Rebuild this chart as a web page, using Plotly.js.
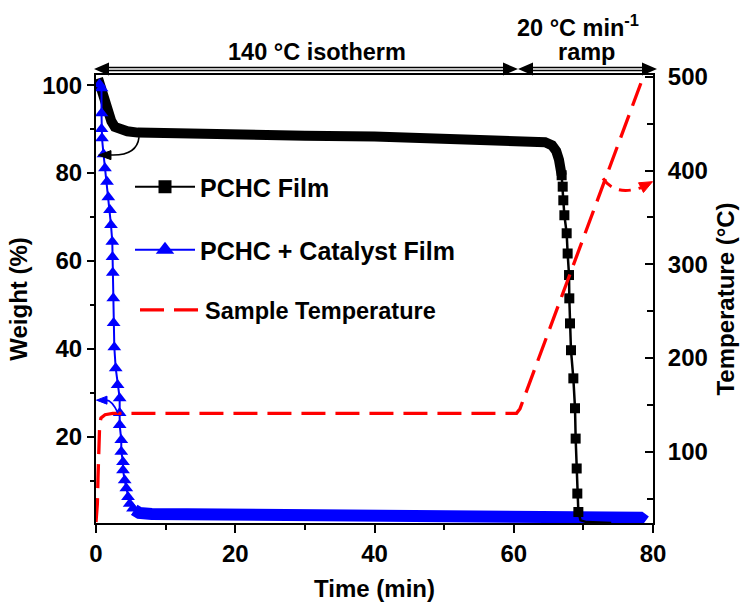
<!DOCTYPE html>
<html><head><meta charset="utf-8">
<script src="https://cdn.plot.ly/plotly-3.0.1.min.js"></script>
<style>html,body{margin:0;padding:0;background:#fff}</style>
</head><body>
<div id="chart" style="width:740px;height:605px"></div>
<script>
// ---- PCHC Film (black) ----
// isotherm part: markers so dense they form a continuous band
const pchcBandTime   = [0.3, 0.6, 0.9, 1.2, 1.5, 1.8, 2.2, 2.7, 3.5, 4.5, 6, 10, 20, 30, 40, 50, 60, 63, 64.5, 65.5, 66.1, 66.5, 66.88];
const pchcBandWeight = [101.5, 99.8, 97.5, 95.5, 94.3, 93.2, 91.8, 90.5, 89.9, 89.5, 89.2, 89.0, 88.7, 88.5, 88.3, 88.0, 87.7, 87.4, 87.0, 86.3, 85.0, 83.0, 79.5];
// decomposition during the ramp (individual markers visible)
const pchcDropTime   = [66.88, 67.03, 67.12, 67.27, 67.60, 67.74, 67.94, 67.98, 68.08, 68.22, 68.56, 68.80, 68.89, 69.04, 69.13, 69.28];
const pchcDropWeight = [79.5, 76.9, 73.8, 70.4, 66.3, 61.7, 56.8, 51.5, 45.8, 39.7, 33.3, 26.5, 19.6, 12.8, 7.1, 2.9];
const pchcTailTime   = [69.28, 69.6, 70.5, 72, 74];
const pchcTailWeight = [2.9, 1.0, 0.6, 0.5, 0.4];

// ---- PCHC + Catalyst Film (blue) ----
const catDropTime   = [0.50, 0.79, 0.79, 0.79, 0.86, 1.08, 1.29, 1.58, 1.77, 2.01, 2.15, 2.34, 2.37, 2.41, 2.48, 2.53, 2.63, 2.83, 3.10, 3.40, 3.40, 3.40, 3.63, 3.63, 3.88, 3.88, 4.12, 4.35, 4.60, 4.84, 5.31, 6.03];
const catDropWeight = [100.2, 99.3, 93.6, 90.0, 87.9, 84.3, 81.1, 78.0, 74.5, 71.6, 68.2, 64.4, 60.9, 57.3, 51.5, 45.9, 40.4, 35.6, 31.8, 28.8, 25.4, 22.7, 19.3, 16.6, 14.3, 12.4, 10.1, 8.3, 6.3, 4.8, 3.7, 2.9];
const catBandTime   = [5.5, 6.2, 8, 15, 30, 45, 58, 66, 70, 75, 78.2, 78.9];
const catBandWeight = [3.4, 2.7, 2.45, 2.35, 2.25, 2.15, 2.05, 1.9, 1.75, 1.7, 1.6, 0.8];

// ---- Sample Temperature (red, right axis) ----
const tempTime  = [0, 0.2, 0.29, 0.43, 0.53, 0.72, 1.3, 2.4, 60.4, 60.9, 78.3];
const tempValue = [25, 45, 73, 105, 130, 136, 139.5, 141, 141, 146, 494];

// ---- labels ----
const xTitle = 'Time (min)';
const yTitle = 'Weight (%)';
const y2Title = 'Temperature (°C)';
const seriesNames = ['PCHC Film', 'PCHC + Catalyst Film', 'Sample Temperature'];
const topLabels = ['140 °C isotherm', '20 °C min<sup>-1</sup>', 'ramp'];

const FONT = 'Liberation Sans, Arial, sans-serif';
const BLACK = '#000000', BLUE = '#0000ff', RED = '#ff0000';

const traces = [
  {x: catBandTime, y: catBandWeight, mode: 'lines', line: {color: BLUE, width: 12}, showlegend: false, hoverinfo: 'skip'},
  {x: pchcBandTime, y: pchcBandWeight, mode: 'lines', line: {color: BLACK, width: 10}, showlegend: false, hoverinfo: 'skip'},
  {x: catDropTime, y: catDropWeight, mode: 'lines+markers', showlegend: false,
   line: {color: BLUE, width: 2}, marker: {symbol: 'triangle-up', size: 12, color: BLUE}},
  {x: pchcDropTime, y: pchcDropWeight, mode: 'lines+markers', showlegend: false,
   line: {color: BLACK, width: 2.5}, marker: {symbol: 'square', size: 10, color: BLACK}},
  {x: pchcTailTime, y: pchcTailWeight, mode: 'lines', line: {color: BLACK, width: 2.5}, showlegend: false},
  {x: tempTime, y: tempValue, yaxis: 'y2', mode: 'lines', name: seriesNames[2], legend: 'legend3',
   line: {color: RED, width: 3.3, dash: '24px,10px'}},
  // legend entries (larger symbols, as in the original legend)
  {x: [null], y: [null], mode: 'lines+markers', name: seriesNames[0], legend: 'legend',
   line: {color: BLACK, width: 2}, marker: {symbol: 'square', size: 13, color: BLACK}},
  {x: [null], y: [null], mode: 'lines+markers', name: seriesNames[1], legend: 'legend2',
   line: {color: BLUE, width: 2}, marker: {symbol: 'triangle-up', size: 16, color: BLUE}}
];

// helpers: pixel -> paper
const PX0 = 96, PW = 557, PY1 = 523, PH = 448;
const px = v => (v - PX0) / PW;
const py = v => (PY1 - v) / PH;

function tri(a, b, c) {
  return `M${a[0]},${a[1]} L${b[0]},${b[1]} L${c[0]},${c[1]} Z`;
}
const ay = py(69), ah = 6.5 / PH;
const shapes = [
  // top double-headed arrows (outlined shaft)
  {type: 'line', xref: 'paper', yref: 'paper', x0: px(106), x1: px(506), y0: ay, y1: ay, line: {color: BLACK, width: 4.5}},
  {type: 'line', xref: 'paper', yref: 'paper', x0: px(106), x1: px(506), y0: ay, y1: ay, line: {color: '#fff', width: 1.4}},
  {type: 'path', xref: 'paper', yref: 'paper', path: tri([px(94), ay], [px(109), ay + ah], [px(109), ay - ah]), fillcolor: BLACK, line: {width: 0}},
  {type: 'path', xref: 'paper', yref: 'paper', path: tri([px(518), ay], [px(503), ay + ah], [px(503), ay - ah]), fillcolor: BLACK, line: {width: 0}},
  {type: 'line', xref: 'paper', yref: 'paper', x0: px(530), x1: px(645), y0: ay, y1: ay, line: {color: BLACK, width: 4.5}},
  {type: 'line', xref: 'paper', yref: 'paper', x0: px(530), x1: px(645), y0: ay, y1: ay, line: {color: '#fff', width: 1.4}},
  {type: 'path', xref: 'paper', yref: 'paper', path: tri([px(518), ay], [px(533), ay + ah], [px(533), ay - ah]), fillcolor: BLACK, line: {width: 0}},
  {type: 'path', xref: 'paper', yref: 'paper', path: tri([px(657), ay], [px(642), ay + ah], [px(642), ay - ah]), fillcolor: BLACK, line: {width: 0}},
  // curved axis-indicator arrows
  {type: 'path', xref: 'x', yref: 'y', path: 'M 6.18,88.17 Q 5.89,83.9 2.15,84.1', line: {color: BLACK, width: 1.6}},
  {type: 'path', xref: 'x', yref: 'y', path: 'M 0.36,84.07 L 2.15,85.1 L 2.15,83.05 Z', fillcolor: BLACK, line: {color: BLACK, width: 1}},
  {type: 'path', xref: 'x', yref: 'y', path: 'M 3.16,25.39 Q 2.30,28.34 1.44,28.34', line: {color: BLUE, width: 1.6}},
  {type: 'path', xref: 'x', yref: 'y', path: 'M 0.07,28.34 L 1.58,29.25 L 1.58,27.43 Z', fillcolor: BLUE, line: {color: BLUE, width: 1}},
  {type: 'path', xref: 'x', yref: 'y2', path: 'M 72.82,391.7 Q 74.54,372.5 78.28,381.8', line: {color: RED, width: 3, dash: '12px,8px'}},
  {type: 'path', xref: 'x', yref: 'y2', path: 'M 79.93,388.2 L 78.63,376.6 L 77.92,387.0 Z', fillcolor: RED, line: {color: RED, width: 1}}
];

const annFont = {family: FONT, size: 23.5, color: BLACK, weight: 'bold'};
const annotations = [
  {xref: 'paper', yref: 'paper', x: px(316.5), y: py(52), text: topLabels[0], showarrow: false, xanchor: 'center', yanchor: 'middle', font: annFont},
  {xref: 'paper', yref: 'paper', x: px(578), y: py(26), text: topLabels[1], showarrow: false, xanchor: 'center', yanchor: 'middle', font: annFont},
  {xref: 'paper', yref: 'paper', x: px(586), y: py(52), text: topLabels[2], showarrow: false, xanchor: 'center', yanchor: 'middle', font: annFont}
];

const legFont = {family: FONT, size: 25, color: BLACK, weight: 'bold'};
const legBase = {xanchor: 'left', yanchor: 'middle', bgcolor: 'rgba(0,0,0,0)', borderwidth: 0, font: legFont, itemwidth: 60};

const tickFont = {family: FONT, size: 24, color: BLACK, weight: 'bold'};
const titleFont = {family: FONT, size: 24, color: BLACK, weight: 'bold'};
const axBase = {showline: true, linewidth: 2, linecolor: BLACK, showgrid: false, zeroline: false, tickwidth: 2, tickcolor: BLACK, tickfont: tickFont};

const layout = {
  width: 740, height: 605,
  margin: {l: 96, r: 87, t: 75, b: 82},
  paper_bgcolor: '#fff', plot_bgcolor: '#fff',
  font: {family: FONT, color: BLACK},
  xaxis: Object.assign({}, axBase, {range: [0, 80], tick0: 0, dtick: 20, ticks: 'outside', ticklen: 8, mirror: true,
    minor: {tick0: 0, dtick: 10, ticks: 'outside', ticklen: 5, tickwidth: 2, tickcolor: BLACK, showgrid: false},
    title: {text: xTitle, font: titleFont, standoff: 14}}),
  yaxis: Object.assign({}, axBase, {range: [0.4, 102.3], tick0: 0, dtick: 20, ticks: 'outside', ticklen: 7,
    minor: {tick0: 0, dtick: 10, ticks: 'outside', ticklen: 4, tickwidth: 2, tickcolor: BLACK, showgrid: false},
    title: {text: yTitle, font: titleFont, standoff: 8}}),
  yaxis2: Object.assign({}, axBase, {overlaying: 'y', side: 'right', range: [24, 502], tick0: 0, dtick: 100, ticks: 'inside', ticklen: 8, ticklabelstandoff: 8,
    minor: {tick0: 0, dtick: 50, ticks: 'inside', ticklen: 6, tickwidth: 2, tickcolor: BLACK, showgrid: false},
    title: {text: y2Title, font: titleFont, standoff: 10}}),
  legend: Object.assign({}, legBase, {x: px(130), y: py(187)}),
  legend2: Object.assign({}, legBase, {x: px(130), y: py(250)}),
  legend3: Object.assign({}, legBase, {x: px(135), y: py(310), font: Object.assign({}, legFont, {size: 23.5})}),
  shapes: shapes,
  annotations: annotations
};

Plotly.newPlot('chart', traces, layout, {displayModeBar: false, staticPlot: true});
</script>
</body></html>
